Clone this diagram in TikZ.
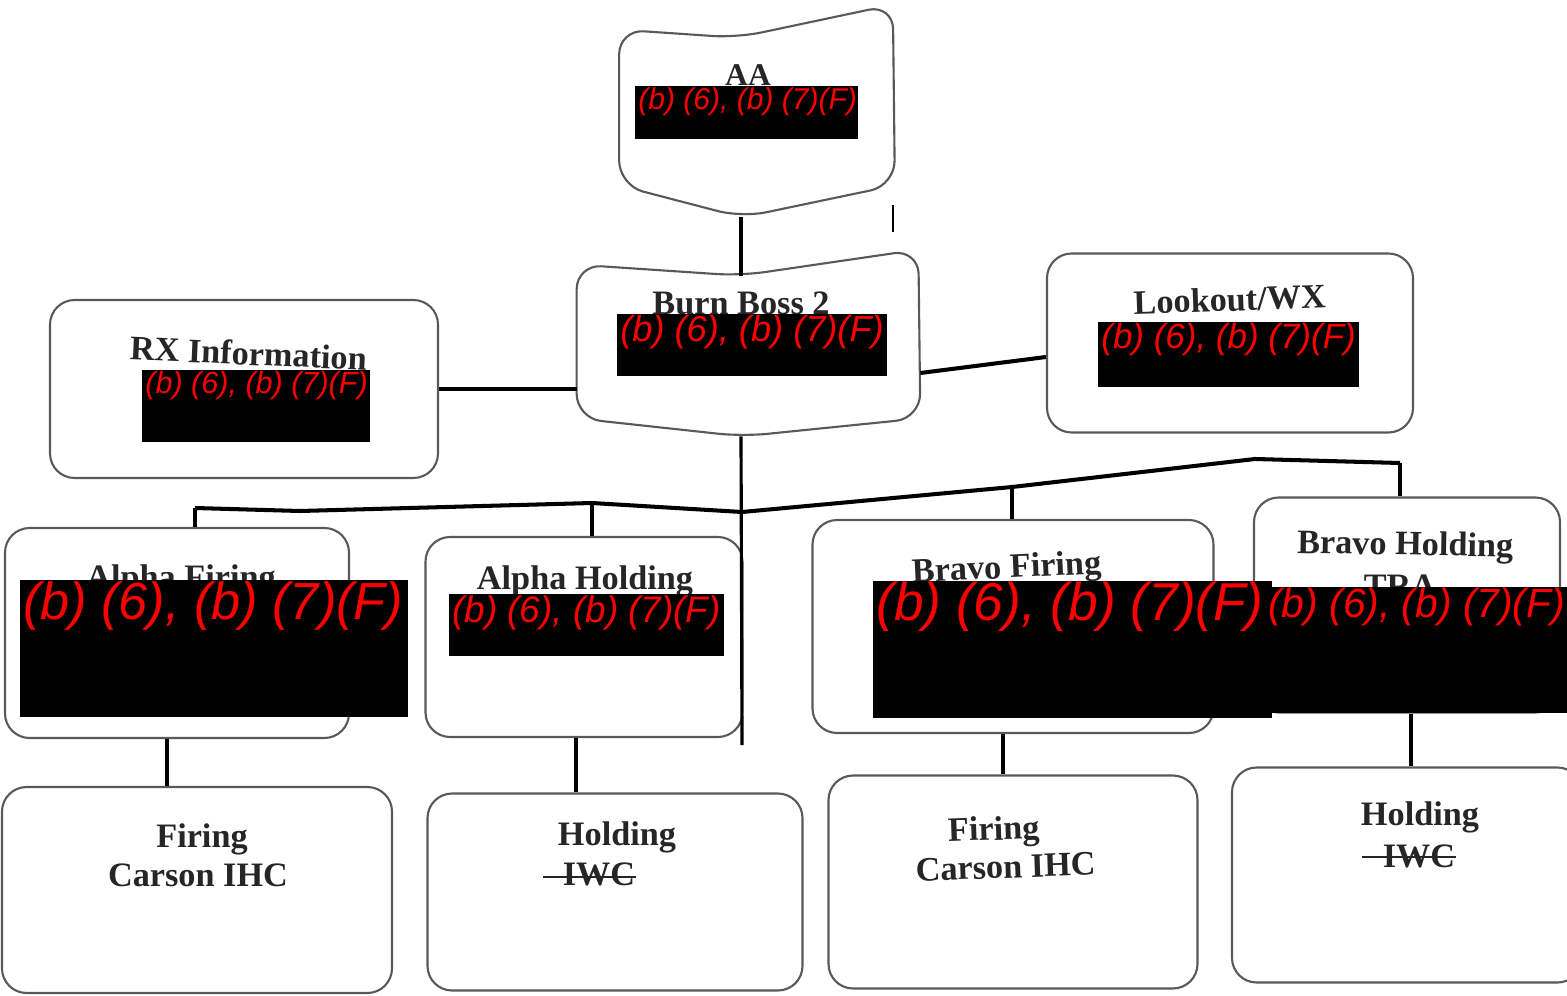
\documentclass[tikz,border=0pt]{standalone}
\usepackage{fontspec}
\setmainfont{Liberation Serif}
\newfontfamily\redactfont{Liberation Sans}
\usetikzlibrary{calc}
\usetikzlibrary{positioning}

\begin{document}
\begin{tikzpicture}[x=0.02cm, y=-0.02cm,
    boxsize/.style 2 args={minimum width=#1*0.02cm, minimum height=#2*0.02cm},
    box/.style={draw=black!65, line width=1.2pt, rounded corners=14pt, inner sep=0pt},
    hidden/.style={inner sep=0pt},
    outline/.style={draw=black!65, line width=1.2pt, rounded corners=14pt},
    link/.style={line width=2.3pt, line join=round},
    trunkline/.style={line width=1.8pt},
    lbl/.style={font=\bfseries\fontsize{19.5}{22}\selectfont, text=black!85, inner sep=0pt, anchor=base},
    strike/.style={line width=1.5pt, black!85},
    redtxt/.style={text=red, inner sep=0pt, anchor=north west}]
  \useasboundingbox (0,0) rectangle (1567,996);

  % boxes
  \node[hidden, boxsize={275}{212}] (aa) at (757,111) {};
  \draw[outline] ($(aa.north west)+(0,25)$) -- ($(aa.north)+(-20,33)$) -- ($(aa.north east)+(-2,0)$)
    -- ($(aa.south east)+(0,-32)$) -- ($(aa.south)+(-15,0)$) -- ($(aa.south west)+(0,-32)$) -- cycle;
  \node[hidden, boxsize={343}{186}] (bb) at (748.5,343) {};
  \draw[outline] ($(bb.north west)+(0,15)$) -- ($(bb.north)+(-8,26)$) -- ($(bb.north east)+(-2,0)$)
    -- ($(bb.south east)+(0,-18)$) -- ($(bb.south)+(-6,0)$) -- ($(bb.south west)+(0,-18)$) -- cycle;
  \node[box, boxsize={388}{178}] (rx) at (244,389) {};
  \node[box, boxsize={366}{179}] (lk) at (1230,343) {};
  \node[box, boxsize={344}{210}] (af) at (177,633) {};
  \node[box, boxsize={317}{200}] (ah) at (584,637) {};
  \node[box, boxsize={401}{213}] (bf) at (1013,626.5) {};
  \node[box, boxsize={306}{215}] (bh) at (1407,605) {};
  \node[box, boxsize={390}{206}] (fc1) at (197,890) {};
  \node[box, boxsize={375}{197}] (hi1) at (615,892) {};
  \node[box, boxsize={369}{213}] (fc2) at (1013,882) {};
  \node[box, boxsize={350}{215}] (hi2) at (1407,875) {};

  % texts
  \node[lbl, font=\bfseries\fontsize{18}{20}\selectfont] (aa-t) at (748,86) {AA};
  \node[lbl] (bb-t) at (741,315) {Burn Boss 2};
  \node[lbl, rotate=-2.5] (rx-t) at (248,365) {RX Information};
  \node[lbl, rotate=2] (lk-t) at (1230,311) {Lookout/WX};
  \node[lbl] (af-t) at (181,588) {Alpha Firing};
  \node[lbl] (ah-t) at (585,589) {Alpha Holding};
  \node[lbl, rotate=2.7] (bf-t) at (1007,578) {Bravo Firing};
  \node[lbl, rotate=-1] (bh-t) at (1405,555) {Bravo Holding};
  \node[lbl] (bh-t2) at (1400,597) {TRA};
  \node[lbl] (fc1-t) at (202,847) {Firing};
  \node[lbl] (fc1-t2) at (198,886) {Carson IHC};
  \node[lbl] (hi1-t) at (617,845) {Holding};
  \node[lbl] (hi1-t2) at (599,885) {IWC};
  \node[lbl, rotate=2] (fc2-t) at (994,840) {Firing};
  \node[lbl, rotate=2] (fc2-t2) at (1006,878) {Carson IHC};
  \node[lbl] (hi2-t) at (1420,825) {Holding};
  \node[lbl] (hi2-t2) at (1419,867) {IWC};
  \draw[strike] ($(hi1-t2.west)+(-19,3)$) -- ($(hi1-t2.east)+(0,3)$);
  \draw[strike] ($(hi2-t2.west)+(-21,1)$) -- ($(hi2-t2.east)+(0,1)$);

  % connectors
  \coordinate (trunk) at (741,0);
  \coordinate (trunkend) at (742,745);
  \draw[link] (aa.south -| trunk) -- ($(bb.north -| trunk)+(0,26)$);
  \draw[link] (rx.east) -- (rx.east -| bb.west);
  \draw[link] ($(bb.east)+(0,30)$) -- ($(lk.west)+(0,14)$);
  \draw[trunkline] (bb.south -| trunk) -- (trunkend);
  \draw[line width=1.2pt] (893,205) -- (893,232);

  \coordinate (j1) at (195,508);
  \coordinate (j2) at (592,503);
  \coordinate (j3) at (742,512);
  \coordinate (j4) at (1012,487);
  \coordinate (j5) at (1255,459);
  \coordinate (j6) at (1400,463);
  \draw[link] (j1) -- (300,511) -- (j2) -- (j3) -- (j4) -- (j5) -- (j6);
  \draw[link] (j1) -- (j1 |- af.north);
  \draw[link] (j2) -- (j2 |- ah.north);
  \draw[link] (j4) -- (j4 |- bf.north);
  \draw[link] (j6) -- (j6 |- bh.north);

  \path (af.south) ++(-10,0) coordinate (af-d);
  \path (ah.south) ++(-8,0) coordinate (ah-d);
  \path (bf.south) ++(-10,0) coordinate (bf-d);
  \path (bh.south) ++(4,0) coordinate (bh-d);
  \draw[link] (af-d) -- (af-d |- fc1.north);
  \draw[link] (ah-d) -- (ah-d |- hi1.north);
  \draw[link] (bf-d) -- (bf-d |- fc2.north);
  \draw[link] (bh-d) -- (bh-d |- hi2.north);

  % redactions
  \foreach \xa/\ya/\xb/\yb/\fs [count=\i] in {635/86/858/139/17.1, 617/314/887/376/20.6,
      142/370/370/442/17.4, 1098/322/1359/387/19.9, 20/580/408/717/29.7,
      449/594/724/656/21, 873/581/1272/718/30.3, 1265/587/1567/713/23.2} {
    \fill (\xa,\ya) rectangle (\xb,\yb);
    \node[redtxt, font=\redactfont\itshape\fontsize{\fs}{\fs}\selectfont] (red-\i) at (\xa+3,\ya+1) {(b) (6), (b) (7)(F)};
  }
\end{tikzpicture}
\end{document}
